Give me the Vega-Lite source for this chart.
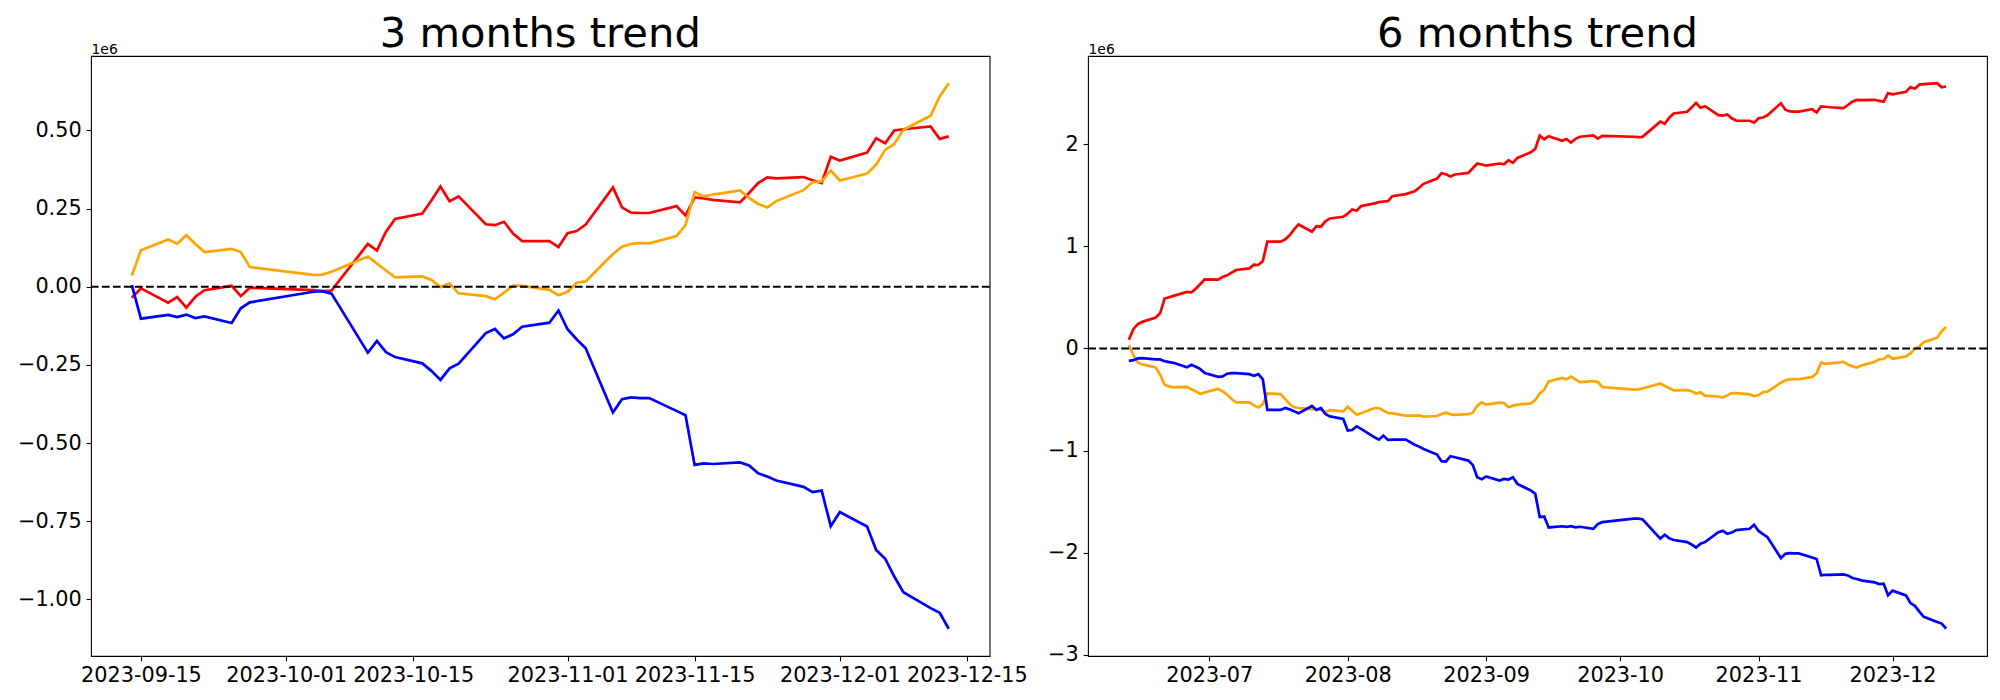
{
  "$schema": "https://vega.github.io/schema/vega-lite/v6.json",
  "background": "white",
  "padding": {"left": 16, "top": 13, "right": 10, "bottom": 10},
  "spacing": 98,
  "bounds": "flush",
  "config": {
    "font": "DejaVu Sans",
    "view": {"stroke": "black", "strokeWidth": 1.1},
    "axis": {"domain": false, "grid": false, "ticks": true, "tickColor": "black", "tickWidth": 1.1, "tickSize": 4.9, "labelColor": "black", "labelFont": "DejaVu Sans", "labelFontSize": 20.8, "labelPadding": 4.9, "labelOverlap": false, "labelFlush": false, "labelBound": false},
    "title": {"font": "DejaVu Sans", "fontSize": 41.7, "fontWeight": "normal", "color": "black", "anchor": "middle", "frame": "group", "baseline": "alphabetic", "offset": -14}
  },
  "hconcat": [
    {
      "width": 898.6,
      "height": 600,
      "title": "3 months trend",
      "layer": [
        {
          "data": {"values": [
            {"date":"2023-09-14","series":"A","value":-35000},{"date":"2023-09-15","series":"A","value":-5000},{"date":"2023-09-18","series":"A","value":-51000},{"date":"2023-09-19","series":"A","value":-33000},{"date":"2023-09-20","series":"A","value":-67000},{"date":"2023-09-21","series":"A","value":-32000},{"date":"2023-09-22","series":"A","value":-11000},{"date":"2023-09-25","series":"A","value":3000},{"date":"2023-09-26","series":"A","value":-30000},{"date":"2023-09-27","series":"A","value":-3000},
            {"date":"2023-10-04","series":"A","value":-11000},{"date":"2023-10-05","series":"A","value":-14000},{"date":"2023-10-06","series":"A","value":-12000},{"date":"2023-10-10","series":"A","value":137000},{"date":"2023-10-11","series":"A","value":116000},{"date":"2023-10-12","series":"A","value":176000},{"date":"2023-10-13","series":"A","value":217000},{"date":"2023-10-16","series":"A","value":234000},{"date":"2023-10-17","series":"A","value":276000},{"date":"2023-10-18","series":"A","value":321000},{"date":"2023-10-19","series":"A","value":274000},{"date":"2023-10-20","series":"A","value":289000},{"date":"2023-10-23","series":"A","value":200000},{"date":"2023-10-24","series":"A","value":197000},{"date":"2023-10-25","series":"A","value":208000},{"date":"2023-10-26","series":"A","value":170000},{"date":"2023-10-27","series":"A","value":146000},{"date":"2023-10-30","series":"A","value":146000},{"date":"2023-10-31","series":"A","value":127000},
            {"date":"2023-11-01","series":"A","value":171000},{"date":"2023-11-02","series":"A","value":178000},{"date":"2023-11-03","series":"A","value":199000},{"date":"2023-11-06","series":"A","value":318000},{"date":"2023-11-07","series":"A","value":254000},{"date":"2023-11-08","series":"A","value":237000},{"date":"2023-11-09","series":"A","value":236000},{"date":"2023-11-10","series":"A","value":236000},{"date":"2023-11-13","series":"A","value":258000},{"date":"2023-11-14","series":"A","value":228000},{"date":"2023-11-15","series":"A","value":286000},{"date":"2023-11-16","series":"A","value":283000},{"date":"2023-11-17","series":"A","value":278000},{"date":"2023-11-20","series":"A","value":270000},{"date":"2023-11-21","series":"A","value":300000},{"date":"2023-11-22","series":"A","value":332000},{"date":"2023-11-23","series":"A","value":350000},{"date":"2023-11-24","series":"A","value":347000},{"date":"2023-11-27","series":"A","value":351000},{"date":"2023-11-28","series":"A","value":341000},{"date":"2023-11-29","series":"A","value":332000},{"date":"2023-11-30","series":"A","value":416000},
            {"date":"2023-12-01","series":"A","value":404000},{"date":"2023-12-04","series":"A","value":429000},{"date":"2023-12-05","series":"A","value":475000},{"date":"2023-12-06","series":"A","value":459000},{"date":"2023-12-07","series":"A","value":500000},{"date":"2023-12-08","series":"A","value":504000},{"date":"2023-12-11","series":"A","value":513000},{"date":"2023-12-12","series":"A","value":473000},{"date":"2023-12-13","series":"A","value":481000},

            {"date":"2023-09-14","series":"B","value":36000},{"date":"2023-09-15","series":"B","value":117000},{"date":"2023-09-18","series":"B","value":151000},{"date":"2023-09-19","series":"B","value":138000},{"date":"2023-09-20","series":"B","value":165000},{"date":"2023-09-21","series":"B","value":137000},{"date":"2023-09-22","series":"B","value":111000},{"date":"2023-09-25","series":"B","value":121000},{"date":"2023-09-26","series":"B","value":111000},{"date":"2023-09-27","series":"B","value":63000},
            {"date":"2023-10-04","series":"B","value":38000},{"date":"2023-10-05","series":"B","value":39000},{"date":"2023-10-06","series":"B","value":48000},{"date":"2023-10-10","series":"B","value":97000},{"date":"2023-10-11","series":"B","value":74000},{"date":"2023-10-12","series":"B","value":52000},{"date":"2023-10-13","series":"B","value":30000},{"date":"2023-10-16","series":"B","value":33000},{"date":"2023-10-17","series":"B","value":22000},{"date":"2023-10-18","series":"B","value":-1000},{"date":"2023-10-19","series":"B","value":11000},{"date":"2023-10-20","series":"B","value":-21000},{"date":"2023-10-23","series":"B","value":-30000},{"date":"2023-10-24","series":"B","value":-40000},{"date":"2023-10-25","series":"B","value":-19000},{"date":"2023-10-26","series":"B","value":4000},{"date":"2023-10-27","series":"B","value":3000},{"date":"2023-10-30","series":"B","value":-10000},{"date":"2023-10-31","series":"B","value":-27000},
            {"date":"2023-11-01","series":"B","value":-16000},{"date":"2023-11-02","series":"B","value":13000},{"date":"2023-11-03","series":"B","value":17000},{"date":"2023-11-06","series":"B","value":105000},{"date":"2023-11-07","series":"B","value":128000},{"date":"2023-11-08","series":"B","value":137000},{"date":"2023-11-09","series":"B","value":140000},{"date":"2023-11-10","series":"B","value":139000},{"date":"2023-11-13","series":"B","value":162000},{"date":"2023-11-14","series":"B","value":197000},{"date":"2023-11-15","series":"B","value":303000},{"date":"2023-11-16","series":"B","value":289000},{"date":"2023-11-17","series":"B","value":295000},{"date":"2023-11-20","series":"B","value":308000},{"date":"2023-11-21","series":"B","value":284000},{"date":"2023-11-22","series":"B","value":265000},{"date":"2023-11-23","series":"B","value":254000},{"date":"2023-11-24","series":"B","value":274000},{"date":"2023-11-27","series":"B","value":309000},{"date":"2023-11-28","series":"B","value":335000},{"date":"2023-11-29","series":"B","value":337000},{"date":"2023-11-30","series":"B","value":372000},
            {"date":"2023-12-01","series":"B","value":340000},{"date":"2023-12-04","series":"B","value":362000},{"date":"2023-12-05","series":"B","value":391000},{"date":"2023-12-06","series":"B","value":438000},{"date":"2023-12-07","series":"B","value":457000},{"date":"2023-12-08","series":"B","value":502000},{"date":"2023-12-11","series":"B","value":547000},{"date":"2023-12-12","series":"B","value":609000},{"date":"2023-12-13","series":"B","value":651000},

            {"date":"2023-09-14","series":"C","value":5000},{"date":"2023-09-15","series":"C","value":-102000},{"date":"2023-09-18","series":"C","value":-90000},{"date":"2023-09-19","series":"C","value":-97000},{"date":"2023-09-20","series":"C","value":-89000},{"date":"2023-09-21","series":"C","value":-100000},{"date":"2023-09-22","series":"C","value":-95000},{"date":"2023-09-25","series":"C","value":-116000},{"date":"2023-09-26","series":"C","value":-69000},{"date":"2023-09-27","series":"C","value":-50000},
            {"date":"2023-10-04","series":"C","value":-16000},{"date":"2023-10-05","series":"C","value":-14000},{"date":"2023-10-06","series":"C","value":-22000},{"date":"2023-10-10","series":"C","value":-211000},{"date":"2023-10-11","series":"C","value":-173000},{"date":"2023-10-12","series":"C","value":-209000},{"date":"2023-10-13","series":"C","value":-225000},{"date":"2023-10-16","series":"C","value":-245000},{"date":"2023-10-17","series":"C","value":-269000},{"date":"2023-10-18","series":"C","value":-298000},{"date":"2023-10-19","series":"C","value":-261000},{"date":"2023-10-20","series":"C","value":-246000},{"date":"2023-10-23","series":"C","value":-148000},{"date":"2023-10-24","series":"C","value":-135000},{"date":"2023-10-25","series":"C","value":-165000},{"date":"2023-10-26","series":"C","value":-152000},{"date":"2023-10-27","series":"C","value":-128000},{"date":"2023-10-30","series":"C","value":-115000},{"date":"2023-10-31","series":"C","value":-76000},
            {"date":"2023-11-01","series":"C","value":-136000},{"date":"2023-11-02","series":"C","value":-168000},{"date":"2023-11-03","series":"C","value":-197000},{"date":"2023-11-06","series":"C","value":-402000},{"date":"2023-11-07","series":"C","value":-360000},{"date":"2023-11-08","series":"C","value":-354000},{"date":"2023-11-09","series":"C","value":-356000},{"date":"2023-11-10","series":"C","value":-356000},{"date":"2023-11-13","series":"C","value":-397000},{"date":"2023-11-14","series":"C","value":-411000},{"date":"2023-11-15","series":"C","value":-570000},{"date":"2023-11-16","series":"C","value":-565000},{"date":"2023-11-17","series":"C","value":-567000},{"date":"2023-11-20","series":"C","value":-562000},{"date":"2023-11-21","series":"C","value":-572000},{"date":"2023-11-22","series":"C","value":-597000},{"date":"2023-11-23","series":"C","value":-607000},{"date":"2023-11-24","series":"C","value":-620000},{"date":"2023-11-27","series":"C","value":-640000},{"date":"2023-11-28","series":"C","value":-657000},{"date":"2023-11-29","series":"C","value":-652000},{"date":"2023-11-30","series":"C","value":-766000},
            {"date":"2023-12-01","series":"C","value":-721000},{"date":"2023-12-04","series":"C","value":-767000},{"date":"2023-12-05","series":"C","value":-842000},{"date":"2023-12-06","series":"C","value":-870000},{"date":"2023-12-07","series":"C","value":-927000},{"date":"2023-12-08","series":"C","value":-977000},{"date":"2023-12-11","series":"C","value":-1028000},{"date":"2023-12-12","series":"C","value":-1043000},{"date":"2023-12-13","series":"C","value":-1094000}
          ]},
          "mark": {"type": "line", "strokeWidth": 2.7},
          "encoding": {
            "x": {"field": "date", "type": "temporal",
              "scale": {"type": "utc", "domain": [{"year":2023,"month":9,"date":9,"hours":12,"utc":true},{"year":2023,"month":12,"date":17,"hours":12,"utc":true}]},
              "axis": {"title": null, "values": [{"year":2023,"month":9,"date":15,"utc":true},{"year":2023,"month":10,"date":1,"utc":true},{"year":2023,"month":10,"date":15,"utc":true},{"year":2023,"month":11,"date":1,"utc":true},{"year":2023,"month":11,"date":15,"utc":true},{"year":2023,"month":12,"date":1,"utc":true},{"year":2023,"month":12,"date":15,"utc":true}], "labelExpr": "utcFormat(datum.value, '%Y-%m-%d')"}},
            "y": {"field": "value", "type": "quantitative",
              "scale": {"domain": [-1181250, 738250], "nice": false, "zero": false},
              "axis": {"values": [-1000000, -750000, -500000, -250000, 0, 250000, 500000], "labelExpr": "format(datum.value / 1000000, '.2f')", "title": "1e6", "titleAngle": 0, "titleX": 0, "titleY": -3, "titleAlign": "left", "titleBaseline": "alphabetic", "titleFontSize": 13.9, "titleFontWeight": "normal", "titleColor": "black", "titleFont": "DejaVu Sans"}},
            "color": {"field": "series", "type": "nominal", "scale": {"domain": ["A", "B", "C"], "range": ["#ff0000", "#ffa500", "#0000ff"]}, "legend": null}
          }
        },
        {
          "data": {"values": [{"value": 0}]},
          "mark": {"type": "rule", "color": "black", "strokeWidth": 2.1, "strokeDash": [7.7, 3.3]},
          "encoding": {"y": {"field": "value", "type": "quantitative"}}
        }
      ]
    },
    {
      "width": 899,
      "height": 600,
      "title": "6 months trend",
      "layer": [
        {
          "data": {"values": [
            {"date":"2023-06-13","series":"A","value":85000},{"date":"2023-06-14","series":"A","value":189000},{"date":"2023-06-15","series":"A","value":238000},{"date":"2023-06-16","series":"A","value":261000},{"date":"2023-06-19","series":"A","value":303000},{"date":"2023-06-20","series":"A","value":345000},{"date":"2023-06-21","series":"A","value":489000},{"date":"2023-06-22","series":"A","value":502000},{"date":"2023-06-23","series":"A","value":515000},{"date":"2023-06-26","series":"A","value":554000},{"date":"2023-06-27","series":"A","value":551000},{"date":"2023-06-28","series":"A","value":586000},{"date":"2023-06-29","series":"A","value":632000},{"date":"2023-06-30","series":"A","value":678000},
            {"date":"2023-07-03","series":"A","value":674000},{"date":"2023-07-04","series":"A","value":701000},{"date":"2023-07-05","series":"A","value":717000},{"date":"2023-07-06","series":"A","value":743000},{"date":"2023-07-07","series":"A","value":769000},{"date":"2023-07-10","series":"A","value":785000},{"date":"2023-07-11","series":"A","value":821000},{"date":"2023-07-12","series":"A","value":818000},{"date":"2023-07-13","series":"A","value":857000},{"date":"2023-07-14","series":"A","value":1046000},{"date":"2023-07-17","series":"A","value":1046000},{"date":"2023-07-18","series":"A","value":1069000},{"date":"2023-07-19","series":"A","value":1108000},{"date":"2023-07-20","series":"A","value":1166000},{"date":"2023-07-21","series":"A","value":1215000},{"date":"2023-07-24","series":"A","value":1144000},{"date":"2023-07-25","series":"A","value":1199000},{"date":"2023-07-26","series":"A","value":1193000},{"date":"2023-07-27","series":"A","value":1245000},{"date":"2023-07-28","series":"A","value":1274000},{"date":"2023-07-31","series":"A","value":1290000},
            {"date":"2023-08-01","series":"A","value":1320000},{"date":"2023-08-02","series":"A","value":1362000},{"date":"2023-08-03","series":"A","value":1349000},{"date":"2023-08-04","series":"A","value":1395000},{"date":"2023-08-07","series":"A","value":1421000},{"date":"2023-08-08","series":"A","value":1434000},{"date":"2023-08-09","series":"A","value":1440000},{"date":"2023-08-10","series":"A","value":1443000},{"date":"2023-08-11","series":"A","value":1492000},{"date":"2023-08-14","series":"A","value":1512000},{"date":"2023-08-16","series":"A","value":1541000},{"date":"2023-08-17","series":"A","value":1574000},{"date":"2023-08-18","series":"A","value":1613000},{"date":"2023-08-21","series":"A","value":1665000},{"date":"2023-08-22","series":"A","value":1717000},{"date":"2023-08-23","series":"A","value":1707000},{"date":"2023-08-24","series":"A","value":1685000},{"date":"2023-08-25","series":"A","value":1704000},{"date":"2023-08-28","series":"A","value":1720000},{"date":"2023-08-29","series":"A","value":1766000},{"date":"2023-08-30","series":"A","value":1812000},{"date":"2023-08-31","series":"A","value":1802000},
            {"date":"2023-09-01","series":"A","value":1792000},{"date":"2023-09-04","series":"A","value":1812000},{"date":"2023-09-05","series":"A","value":1805000},{"date":"2023-09-06","series":"A","value":1844000},{"date":"2023-09-07","series":"A","value":1818000},{"date":"2023-09-08","series":"A","value":1867000},{"date":"2023-09-11","series":"A","value":1922000},{"date":"2023-09-12","series":"A","value":1955000},{"date":"2023-09-13","series":"A","value":2085000},
            {"date":"2023-09-14","series":"A","value":2050000},{"date":"2023-09-15","series":"A","value":2080000},{"date":"2023-09-18","series":"A","value":2034000},{"date":"2023-09-19","series":"A","value":2052000},{"date":"2023-09-20","series":"A","value":2018000},{"date":"2023-09-21","series":"A","value":2053000},{"date":"2023-09-22","series":"A","value":2074000},{"date":"2023-09-25","series":"A","value":2088000},{"date":"2023-09-26","series":"A","value":2055000},{"date":"2023-09-27","series":"A","value":2082000},
            {"date":"2023-10-04","series":"A","value":2074000},{"date":"2023-10-05","series":"A","value":2071000},{"date":"2023-10-06","series":"A","value":2073000},{"date":"2023-10-10","series":"A","value":2222000},{"date":"2023-10-11","series":"A","value":2201000},{"date":"2023-10-12","series":"A","value":2261000},{"date":"2023-10-13","series":"A","value":2302000},{"date":"2023-10-16","series":"A","value":2319000},{"date":"2023-10-17","series":"A","value":2361000},{"date":"2023-10-18","series":"A","value":2406000},{"date":"2023-10-19","series":"A","value":2359000},{"date":"2023-10-20","series":"A","value":2374000},{"date":"2023-10-23","series":"A","value":2285000},{"date":"2023-10-24","series":"A","value":2282000},{"date":"2023-10-25","series":"A","value":2293000},{"date":"2023-10-26","series":"A","value":2255000},{"date":"2023-10-27","series":"A","value":2231000},{"date":"2023-10-30","series":"A","value":2231000},{"date":"2023-10-31","series":"A","value":2212000},
            {"date":"2023-11-01","series":"A","value":2256000},{"date":"2023-11-02","series":"A","value":2263000},{"date":"2023-11-03","series":"A","value":2284000},{"date":"2023-11-06","series":"A","value":2403000},{"date":"2023-11-07","series":"A","value":2339000},{"date":"2023-11-08","series":"A","value":2322000},{"date":"2023-11-09","series":"A","value":2321000},{"date":"2023-11-10","series":"A","value":2321000},{"date":"2023-11-13","series":"A","value":2343000},{"date":"2023-11-14","series":"A","value":2313000},{"date":"2023-11-15","series":"A","value":2371000},{"date":"2023-11-16","series":"A","value":2368000},{"date":"2023-11-17","series":"A","value":2363000},{"date":"2023-11-20","series":"A","value":2355000},{"date":"2023-11-21","series":"A","value":2385000},{"date":"2023-11-22","series":"A","value":2417000},{"date":"2023-11-23","series":"A","value":2435000},{"date":"2023-11-24","series":"A","value":2432000},{"date":"2023-11-27","series":"A","value":2436000},{"date":"2023-11-28","series":"A","value":2426000},{"date":"2023-11-29","series":"A","value":2417000},{"date":"2023-11-30","series":"A","value":2501000},
            {"date":"2023-12-01","series":"A","value":2489000},{"date":"2023-12-04","series":"A","value":2514000},{"date":"2023-12-05","series":"A","value":2560000},{"date":"2023-12-06","series":"A","value":2544000},{"date":"2023-12-07","series":"A","value":2585000},{"date":"2023-12-08","series":"A","value":2589000},{"date":"2023-12-11","series":"A","value":2598000},{"date":"2023-12-12","series":"A","value":2558000},{"date":"2023-12-13","series":"A","value":2566000},

            {"date":"2023-06-13","series":"B","value":33000},{"date":"2023-06-14","series":"B","value":-62000},{"date":"2023-06-15","series":"B","value":-137000},{"date":"2023-06-16","series":"B","value":-156000},{"date":"2023-06-19","series":"B","value":-186000},{"date":"2023-06-20","series":"B","value":-257000},{"date":"2023-06-21","series":"B","value":-355000},{"date":"2023-06-22","series":"B","value":-371000},{"date":"2023-06-23","series":"B","value":-381000},{"date":"2023-06-26","series":"B","value":-375000},{"date":"2023-06-27","series":"B","value":-400000},{"date":"2023-06-28","series":"B","value":-420000},{"date":"2023-06-29","series":"B","value":-446000},{"date":"2023-06-30","series":"B","value":-430000},
            {"date":"2023-07-03","series":"B","value":-397000},{"date":"2023-07-04","series":"B","value":-420000},{"date":"2023-07-05","series":"B","value":-453000},{"date":"2023-07-06","series":"B","value":-495000},{"date":"2023-07-07","series":"B","value":-528000},{"date":"2023-07-10","series":"B","value":-528000},{"date":"2023-07-11","series":"B","value":-557000},{"date":"2023-07-12","series":"B","value":-577000},{"date":"2023-07-13","series":"B","value":-544000},{"date":"2023-07-14","series":"B","value":-440000},{"date":"2023-07-17","series":"B","value":-446000},{"date":"2023-07-18","series":"B","value":-495000},{"date":"2023-07-19","series":"B","value":-544000},{"date":"2023-07-20","series":"B","value":-576000},{"date":"2023-07-21","series":"B","value":-583000},{"date":"2023-07-24","series":"B","value":-593000},{"date":"2023-07-25","series":"B","value":-593000},{"date":"2023-07-26","series":"B","value":-603000},{"date":"2023-07-27","series":"B","value":-625000},{"date":"2023-07-28","series":"B","value":-603000},{"date":"2023-07-31","series":"B","value":-616000},
            {"date":"2023-08-01","series":"B","value":-570000},{"date":"2023-08-02","series":"B","value":-609000},{"date":"2023-08-03","series":"B","value":-648000},{"date":"2023-08-04","series":"B","value":-635000},{"date":"2023-08-07","series":"B","value":-583000},{"date":"2023-08-08","series":"B","value":-583000},{"date":"2023-08-09","series":"B","value":-609000},{"date":"2023-08-10","series":"B","value":-632000},{"date":"2023-08-11","series":"B","value":-635000},{"date":"2023-08-14","series":"B","value":-658000},{"date":"2023-08-16","series":"B","value":-658000},{"date":"2023-08-17","series":"B","value":-655000},{"date":"2023-08-18","series":"B","value":-668000},{"date":"2023-08-21","series":"B","value":-661000},{"date":"2023-08-22","series":"B","value":-642000},{"date":"2023-08-23","series":"B","value":-629000},{"date":"2023-08-24","series":"B","value":-645000},{"date":"2023-08-25","series":"B","value":-651000},{"date":"2023-08-28","series":"B","value":-642000},{"date":"2023-08-29","series":"B","value":-629000},{"date":"2023-08-30","series":"B","value":-560000},{"date":"2023-08-31","series":"B","value":-528000},
            {"date":"2023-09-01","series":"B","value":-550000},{"date":"2023-09-04","series":"B","value":-531000},{"date":"2023-09-05","series":"B","value":-534000},{"date":"2023-09-06","series":"B","value":-576000},{"date":"2023-09-07","series":"B","value":-560000},{"date":"2023-09-08","series":"B","value":-550000},{"date":"2023-09-11","series":"B","value":-537000},{"date":"2023-09-12","series":"B","value":-505000},{"date":"2023-09-13","series":"B","value":-440000},
            {"date":"2023-09-14","series":"B","value":-404000},{"date":"2023-09-15","series":"B","value":-323000},{"date":"2023-09-18","series":"B","value":-289000},{"date":"2023-09-19","series":"B","value":-302000},{"date":"2023-09-20","series":"B","value":-275000},{"date":"2023-09-21","series":"B","value":-303000},{"date":"2023-09-22","series":"B","value":-329000},{"date":"2023-09-25","series":"B","value":-319000},{"date":"2023-09-26","series":"B","value":-329000},{"date":"2023-09-27","series":"B","value":-377000},
            {"date":"2023-10-04","series":"B","value":-402000},{"date":"2023-10-05","series":"B","value":-401000},{"date":"2023-10-06","series":"B","value":-392000},{"date":"2023-10-10","series":"B","value":-343000},{"date":"2023-10-11","series":"B","value":-366000},{"date":"2023-10-12","series":"B","value":-388000},{"date":"2023-10-13","series":"B","value":-410000},{"date":"2023-10-16","series":"B","value":-407000},{"date":"2023-10-17","series":"B","value":-418000},{"date":"2023-10-18","series":"B","value":-441000},{"date":"2023-10-19","series":"B","value":-429000},{"date":"2023-10-20","series":"B","value":-461000},{"date":"2023-10-23","series":"B","value":-470000},{"date":"2023-10-24","series":"B","value":-480000},{"date":"2023-10-25","series":"B","value":-459000},{"date":"2023-10-26","series":"B","value":-436000},{"date":"2023-10-27","series":"B","value":-437000},{"date":"2023-10-30","series":"B","value":-450000},{"date":"2023-10-31","series":"B","value":-467000},
            {"date":"2023-11-01","series":"B","value":-456000},{"date":"2023-11-02","series":"B","value":-427000},{"date":"2023-11-03","series":"B","value":-423000},{"date":"2023-11-06","series":"B","value":-335000},{"date":"2023-11-07","series":"B","value":-312000},{"date":"2023-11-08","series":"B","value":-303000},{"date":"2023-11-09","series":"B","value":-300000},{"date":"2023-11-10","series":"B","value":-301000},{"date":"2023-11-13","series":"B","value":-278000},{"date":"2023-11-14","series":"B","value":-243000},{"date":"2023-11-15","series":"B","value":-137000},{"date":"2023-11-16","series":"B","value":-151000},{"date":"2023-11-17","series":"B","value":-145000},{"date":"2023-11-20","series":"B","value":-132000},{"date":"2023-11-21","series":"B","value":-156000},{"date":"2023-11-22","series":"B","value":-175000},{"date":"2023-11-23","series":"B","value":-186000},{"date":"2023-11-24","series":"B","value":-166000},{"date":"2023-11-27","series":"B","value":-131000},{"date":"2023-11-28","series":"B","value":-105000},{"date":"2023-11-29","series":"B","value":-103000},{"date":"2023-11-30","series":"B","value":-68000},
            {"date":"2023-12-01","series":"B","value":-100000},{"date":"2023-12-04","series":"B","value":-78000},{"date":"2023-12-05","series":"B","value":-49000},{"date":"2023-12-06","series":"B","value":-2000},{"date":"2023-12-07","series":"B","value":17000},{"date":"2023-12-08","series":"B","value":62000},{"date":"2023-12-11","series":"B","value":107000},{"date":"2023-12-12","series":"B","value":169000},{"date":"2023-12-13","series":"B","value":211000},

            {"date":"2023-06-13","series":"C","value":-121000},{"date":"2023-06-14","series":"C","value":-114000},{"date":"2023-06-15","series":"C","value":-97000},{"date":"2023-06-16","series":"C","value":-94000},{"date":"2023-06-19","series":"C","value":-107000},{"date":"2023-06-20","series":"C","value":-107000},{"date":"2023-06-21","series":"C","value":-124000},{"date":"2023-06-22","series":"C","value":-134000},{"date":"2023-06-23","series":"C","value":-140000},{"date":"2023-06-26","series":"C","value":-185000},{"date":"2023-06-27","series":"C","value":-160000},{"date":"2023-06-28","series":"C","value":-179000},{"date":"2023-06-29","series":"C","value":-202000},{"date":"2023-06-30","series":"C","value":-241000},
            {"date":"2023-07-03","series":"C","value":-277000},{"date":"2023-07-04","series":"C","value":-273000},{"date":"2023-07-05","series":"C","value":-247000},{"date":"2023-07-06","series":"C","value":-241000},{"date":"2023-07-07","series":"C","value":-241000},{"date":"2023-07-10","series":"C","value":-251000},{"date":"2023-07-11","series":"C","value":-267000},{"date":"2023-07-12","series":"C","value":-251000},{"date":"2023-07-13","series":"C","value":-303000},{"date":"2023-07-14","series":"C","value":-602000},{"date":"2023-07-17","series":"C","value":-602000},{"date":"2023-07-18","series":"C","value":-583000},{"date":"2023-07-19","series":"C","value":-596000},{"date":"2023-07-20","series":"C","value":-615000},{"date":"2023-07-21","series":"C","value":-635000},{"date":"2023-07-24","series":"C","value":-563000},{"date":"2023-07-25","series":"C","value":-602000},{"date":"2023-07-26","series":"C","value":-583000},{"date":"2023-07-27","series":"C","value":-642000},{"date":"2023-07-28","series":"C","value":-665000},{"date":"2023-07-31","series":"C","value":-690000},
            {"date":"2023-08-01","series":"C","value":-804000},{"date":"2023-08-02","series":"C","value":-798000},{"date":"2023-08-03","series":"C","value":-762000},{"date":"2023-08-04","series":"C","value":-788000},{"date":"2023-08-07","series":"C","value":-870000},{"date":"2023-08-08","series":"C","value":-893000},{"date":"2023-08-09","series":"C","value":-853000},{"date":"2023-08-10","series":"C","value":-896000},{"date":"2023-08-11","series":"C","value":-893000},{"date":"2023-08-14","series":"C","value":-893000},{"date":"2023-08-16","series":"C","value":-942000},{"date":"2023-08-17","series":"C","value":-961000},{"date":"2023-08-18","series":"C","value":-984000},{"date":"2023-08-21","series":"C","value":-1039000},{"date":"2023-08-22","series":"C","value":-1104000},{"date":"2023-08-23","series":"C","value":-1108000},{"date":"2023-08-24","series":"C","value":-1055000},{"date":"2023-08-25","series":"C","value":-1065000},{"date":"2023-08-28","series":"C","value":-1098000},{"date":"2023-08-29","series":"C","value":-1140000},{"date":"2023-08-30","series":"C","value":-1261000},{"date":"2023-08-31","series":"C","value":-1280000},
            {"date":"2023-09-01","series":"C","value":-1254000},{"date":"2023-09-04","series":"C","value":-1293000},{"date":"2023-09-05","series":"C","value":-1277000},{"date":"2023-09-06","series":"C","value":-1283000},{"date":"2023-09-07","series":"C","value":-1261000},{"date":"2023-09-08","series":"C","value":-1326000},{"date":"2023-09-11","series":"C","value":-1391000},{"date":"2023-09-12","series":"C","value":-1424000},{"date":"2023-09-13","series":"C","value":-1651000},
            {"date":"2023-09-14","series":"C","value":-1646000},{"date":"2023-09-15","series":"C","value":-1753000},{"date":"2023-09-18","series":"C","value":-1741000},{"date":"2023-09-19","series":"C","value":-1748000},{"date":"2023-09-20","series":"C","value":-1740000},{"date":"2023-09-21","series":"C","value":-1751000},{"date":"2023-09-22","series":"C","value":-1746000},{"date":"2023-09-25","series":"C","value":-1767000},{"date":"2023-09-26","series":"C","value":-1720000},{"date":"2023-09-27","series":"C","value":-1701000},
            {"date":"2023-10-04","series":"C","value":-1667000},{"date":"2023-10-05","series":"C","value":-1665000},{"date":"2023-10-06","series":"C","value":-1673000},{"date":"2023-10-10","series":"C","value":-1862000},{"date":"2023-10-11","series":"C","value":-1824000},{"date":"2023-10-12","series":"C","value":-1860000},{"date":"2023-10-13","series":"C","value":-1876000},{"date":"2023-10-16","series":"C","value":-1896000},{"date":"2023-10-17","series":"C","value":-1920000},{"date":"2023-10-18","series":"C","value":-1949000},{"date":"2023-10-19","series":"C","value":-1912000},{"date":"2023-10-20","series":"C","value":-1897000},{"date":"2023-10-23","series":"C","value":-1799000},{"date":"2023-10-24","series":"C","value":-1786000},{"date":"2023-10-25","series":"C","value":-1816000},{"date":"2023-10-26","series":"C","value":-1803000},{"date":"2023-10-27","series":"C","value":-1779000},{"date":"2023-10-30","series":"C","value":-1766000},{"date":"2023-10-31","series":"C","value":-1727000},
            {"date":"2023-11-01","series":"C","value":-1787000},{"date":"2023-11-02","series":"C","value":-1819000},{"date":"2023-11-03","series":"C","value":-1848000},{"date":"2023-11-06","series":"C","value":-2053000},{"date":"2023-11-07","series":"C","value":-2011000},{"date":"2023-11-08","series":"C","value":-2005000},{"date":"2023-11-09","series":"C","value":-2007000},{"date":"2023-11-10","series":"C","value":-2007000},{"date":"2023-11-13","series":"C","value":-2048000},{"date":"2023-11-14","series":"C","value":-2062000},{"date":"2023-11-15","series":"C","value":-2221000},{"date":"2023-11-16","series":"C","value":-2216000},{"date":"2023-11-17","series":"C","value":-2218000},{"date":"2023-11-20","series":"C","value":-2213000},{"date":"2023-11-21","series":"C","value":-2223000},{"date":"2023-11-22","series":"C","value":-2248000},{"date":"2023-11-23","series":"C","value":-2258000},{"date":"2023-11-24","series":"C","value":-2271000},{"date":"2023-11-27","series":"C","value":-2291000},{"date":"2023-11-28","series":"C","value":-2308000},{"date":"2023-11-29","series":"C","value":-2303000},{"date":"2023-11-30","series":"C","value":-2417000},
            {"date":"2023-12-01","series":"C","value":-2372000},{"date":"2023-12-04","series":"C","value":-2418000},{"date":"2023-12-05","series":"C","value":-2493000},{"date":"2023-12-06","series":"C","value":-2521000},{"date":"2023-12-07","series":"C","value":-2578000},{"date":"2023-12-08","series":"C","value":-2628000},{"date":"2023-12-11","series":"C","value":-2679000},{"date":"2023-12-12","series":"C","value":-2694000},{"date":"2023-12-13","series":"C","value":-2745000}
          ]},
          "mark": {"type": "line", "strokeWidth": 2.7},
          "encoding": {
            "x": {"field": "date", "type": "temporal",
              "scale": {"type": "utc", "domain": [{"year":2023,"month":6,"date":3,"hours":20,"minutes":24,"utc":true},{"year":2023,"month":12,"date":22,"hours":3,"minutes":36,"utc":true}]},
              "axis": {"title": null, "values": [{"year":2023,"month":7,"date":1,"utc":true},{"year":2023,"month":8,"date":1,"utc":true},{"year":2023,"month":9,"date":1,"utc":true},{"year":2023,"month":10,"date":1,"utc":true},{"year":2023,"month":11,"date":1,"utc":true},{"year":2023,"month":12,"date":1,"utc":true}], "labelExpr": "utcFormat(datum.value, '%Y-%m')"}},
            "y": {"field": "value", "type": "quantitative",
              "scale": {"domain": [-3012000, 2865000], "nice": false, "zero": false},
              "axis": {"values": [-3000000, -2000000, -1000000, 0, 1000000, 2000000], "labelExpr": "format(datum.value / 1000000, '.0f')", "title": "1e6", "titleAngle": 0, "titleX": 0, "titleY": -3, "titleAlign": "left", "titleBaseline": "alphabetic", "titleFontSize": 13.9, "titleFontWeight": "normal", "titleColor": "black", "titleFont": "DejaVu Sans"}},
            "color": {"field": "series", "type": "nominal", "scale": {"domain": ["A", "B", "C"], "range": ["#ff0000", "#ffa500", "#0000ff"]}, "legend": null}
          }
        },
        {
          "data": {"values": [{"value": 0}]},
          "mark": {"type": "rule", "color": "black", "strokeWidth": 2.1, "strokeDash": [7.7, 3.3]},
          "encoding": {"y": {"field": "value", "type": "quantitative"}}
        }
      ]
    }
  ]
}
